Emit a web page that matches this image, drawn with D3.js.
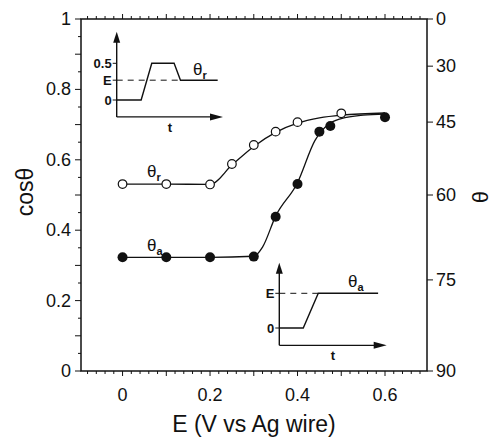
<!DOCTYPE html>
<html>
<head>
<meta charset="utf-8">
<script src="https://cdn.jsdelivr.net/npm/d3@7"></script>
<style>
  body { margin: 0; background: #fff; }
  svg text { font-family: "Liberation Sans", Arial, Helvetica, sans-serif; fill: #111; }
</style>
</head>
<body>
<svg id="chart" width="493" height="437"></svg>
<script>
// receding (open) and advancing (filled) contact angles vs potential
const recE = [0, 0.1, 0.2, 0.25, 0.3, 0.35, 0.4, 0.5];
const recCos = [0.531, 0.531, 0.530, 0.588, 0.642, 0.680, 0.707, 0.732];
const advE = [0, 0.1, 0.2, 0.3, 0.35, 0.4, 0.45, 0.475, 0.6];
const advCos = [0.323, 0.323, 0.323, 0.325, 0.438, 0.531, 0.680, 0.696, 0.721];

// hand-drawn fit curves
const recFitE = [0, 0.1, 0.2, 0.25, 0.3, 0.35, 0.4, 0.45, 0.5, 0.6];
const recFitCos = [0.531, 0.531, 0.530, 0.585, 0.638, 0.678, 0.704, 0.719, 0.727, 0.733];
const advFitE = [0, 0.1, 0.2, 0.3, 0.32, 0.35, 0.4, 0.44, 0.47, 0.5, 0.55, 0.6];
const advFitCos = [0.323, 0.323, 0.323, 0.326, 0.352, 0.44, 0.535, 0.655, 0.70, 0.717, 0.727, 0.730];

const xTicks = [0, 0.2, 0.4, 0.6];
const yTicks = [0, 0.2, 0.4, 0.6, 0.8, 1];
const thetaTicks = [0, 30, 45, 60, 75, 90];

// potential-step schematics (t, E) for the insets
const step1T = [0, 0.23, 0.33, 0.54, 0.6, 0.95];
const step1V = [0, 0, 0.5, 0.5, 0.27, 0.27];
const step2T = [0, 0.223, 0.363, 0.92];
const step2V = [0, 0, 0.5, 0.5];

const svg = d3.select("#chart");
const pLeft = 81, pRight = 427, pTop = 19, pBottom = 371;

const x = d3.scaleLinear().domain([-0.095, 0.696]).range([pLeft, pRight]);
const y = d3.scaleLinear().domain([0, 1]).range([pBottom, pTop]);

// frame
svg.append("rect")
    .attr("x", pLeft).attr("y", pTop)
    .attr("width", pRight - pLeft).attr("height", pBottom - pTop)
    .attr("fill", "none").attr("stroke", "#111").attr("stroke-width", 1.5);

// x ticks (bottom pointing down, top pointing up)
const minorX = d3.range(-0.08, 0.69, 0.02).map(v => Math.round(v * 100) / 100);
minorX.forEach(v => {
    const len = Math.abs(Math.round(v * 10) - v * 10) < 1e-6 ? 5 : 3;
    svg.append("line").attr("x1", x(v)).attr("x2", x(v))
        .attr("y1", pBottom).attr("y2", pBottom + len).attr("stroke", "#111");
    svg.append("line").attr("x1", x(v)).attr("x2", x(v))
        .attr("y1", pTop).attr("y2", pTop - len).attr("stroke", "#111");
});
xTicks.forEach(v => {
    svg.append("text").attr("x", x(v)).attr("y", pBottom + 30)
        .attr("text-anchor", "middle").attr("font-size", 18)
        .text(v === 0 ? "0" : v.toFixed(1));
});

// left axis
d3.range(0, 1.001, 0.05).forEach(v => {
    const major = Math.abs(Math.round(v * 10) - v * 10) < 1e-6;
    svg.append("line").attr("x1", pLeft).attr("x2", pLeft - (major ? 6 : 3))
        .attr("y1", y(v)).attr("y2", y(v)).attr("stroke", "#111");
});
yTicks.forEach(v => {
    svg.append("text").attr("x", pLeft - 10).attr("y", y(v) + 6)
        .attr("text-anchor", "end").attr("font-size", 18)
        .text(v === 0 || v === 1 ? String(v) : v.toFixed(1));
});

// right axis: theta in degrees, placed at cos(theta)
thetaTicks.forEach(t => {
    const yy = y(Math.cos(t * Math.PI / 180));
    svg.append("line").attr("x1", pRight).attr("x2", pRight + 6)
        .attr("y1", yy).attr("y2", yy).attr("stroke", "#111");
    svg.append("text").attr("x", pRight + 9).attr("y", yy + 6)
        .attr("font-size", 18).text(t);
});

// axis titles
svg.append("text").attr("x", 254).attr("y", 432)
    .attr("text-anchor", "middle").attr("font-size", 23)
    .text("E (V vs Ag wire)");
svg.append("text").attr("transform", "translate(33,192) rotate(-90)")
    .attr("text-anchor", "middle").attr("font-size", 23)
    .text("cosθ");
svg.append("text").attr("transform", "translate(488,197) rotate(-90)")
    .attr("text-anchor", "middle").attr("font-size", 22)
    .text("θ");

// fit curves
const line = d3.line().x(d => x(d[0])).y(d => y(d[1])).curve(d3.curveMonotoneX);
svg.append("path").datum(d3.zip(recFitE, recFitCos))
    .attr("d", line).attr("fill", "none").attr("stroke", "#111").attr("stroke-width", 1.3);
svg.append("path").datum(d3.zip(advFitE, advFitCos))
    .attr("d", line).attr("fill", "none").attr("stroke", "#111").attr("stroke-width", 1.3);

// markers
svg.selectAll(".rec").data(d3.zip(recE, recCos)).join("circle")
    .attr("cx", d => x(d[0])).attr("cy", d => y(d[1])).attr("r", 4.3)
    .attr("fill", "#fff").attr("stroke", "#111").attr("stroke-width", 1.2);
svg.selectAll(".adv").data(d3.zip(advE, advCos)).join("circle")
    .attr("cx", d => x(d[0])).attr("cy", d => y(d[1])).attr("r", 5)
    .attr("fill", "#111");

// theta labels with subscripts
function thetaLabel(px, py, sub) {
    const t = svg.append("text").attr("x", px).attr("y", py).attr("font-size", 17);
    t.append("tspan").text("θ");
    t.append("tspan").attr("dy", 4).attr("font-size", 11).attr("font-weight", "bold").text(sub);
}
thetaLabel(147, 177, "r");
thetaLabel(147, 251, "a");

// inset schematics
function inset(cfg) {
    const g = svg.append("g");
    const tx = d3.scaleLinear().domain([0, 1]).range([cfg.x0, cfg.x1]);
    const vy = d3.scaleLinear().domain([0, 0.5]).range([cfg.y0, cfg.yHalf]);
    const axY = vy(cfg.vMin), axTop = vy(cfg.vMax);
    // axes
    g.append("line").attr("x1", tx(0)).attr("x2", tx(0))
        .attr("y1", axY).attr("y2", axTop + 9).attr("stroke", "#111").attr("stroke-width", 1.4);
    g.append("path").attr("d", `M${tx(0) - 3.5},${axTop + 11}L${tx(0)},${axTop}L${tx(0) + 3.5},${axTop + 11}Z`)
        .attr("fill", "#111");
    g.append("line").attr("x1", tx(0)).attr("x2", tx(1) - 10)
        .attr("y1", axY).attr("y2", axY).attr("stroke", "#111").attr("stroke-width", 1.4);
    g.append("path").attr("d", `M${tx(1) - 13},${axY - 3.5}L${tx(1)},${axY}L${tx(1) - 13},${axY + 3.5}Z`)
        .attr("fill", "#111");
    g.append("text").attr("x", (tx(0) + tx(1)) / 2).attr("y", axY + 15)
        .attr("text-anchor", "middle").attr("font-size", 13).attr("font-weight", "bold").text("t");
    // ticks and labels
    cfg.labels.forEach(l => {
        g.append("line").attr("x1", tx(0) - 4).attr("x2", tx(0))
            .attr("y1", vy(l[0])).attr("y2", vy(l[0])).attr("stroke", "#111");
        g.append("text").attr("x", tx(0) - 5).attr("y", vy(l[0]) + 5)
            .attr("text-anchor", "end").attr("font-size", 13).attr("font-weight", "bold").text(l[1]);
    });
    // dashed E level
    g.append("line").attr("x1", tx(0)).attr("x2", tx(cfg.dashEnd))
        .attr("y1", vy(cfg.eLevel)).attr("y2", vy(cfg.eLevel))
        .attr("stroke", "#111").attr("stroke-dasharray", "6,5");
    // waveform
    g.append("path").datum(d3.zip(cfg.t, cfg.v))
        .attr("d", d3.line().x(d => tx(d[0])).y(d => vy(d[1])))
        .attr("fill", "none").attr("stroke", "#111").attr("stroke-width", 1.4);
}

inset({ x0: 116.7, x1: 223, y0: 100, yHalf: 63.3, vMin: -0.23, vMax: 0.93,
        t: step1T, v: step1V, eLevel: 0.27, dashEnd: 0.58,
        labels: [[0, "0"], [0.27, "E"], [0.5, "0.5"]] });
inset({ x0: 279.3, x1: 386.7, y0: 328, yHalf: 293.3, vMin: -0.25, vMax: 0.94,
        t: step2T, v: step2V, eLevel: 0.5, dashEnd: 0.36,
        labels: [[0, "0"], [0.5, "E"]] });

thetaLabel(193, 75, "r");
thetaLabel(348, 287, "a");
</script>
</body>
</html>
